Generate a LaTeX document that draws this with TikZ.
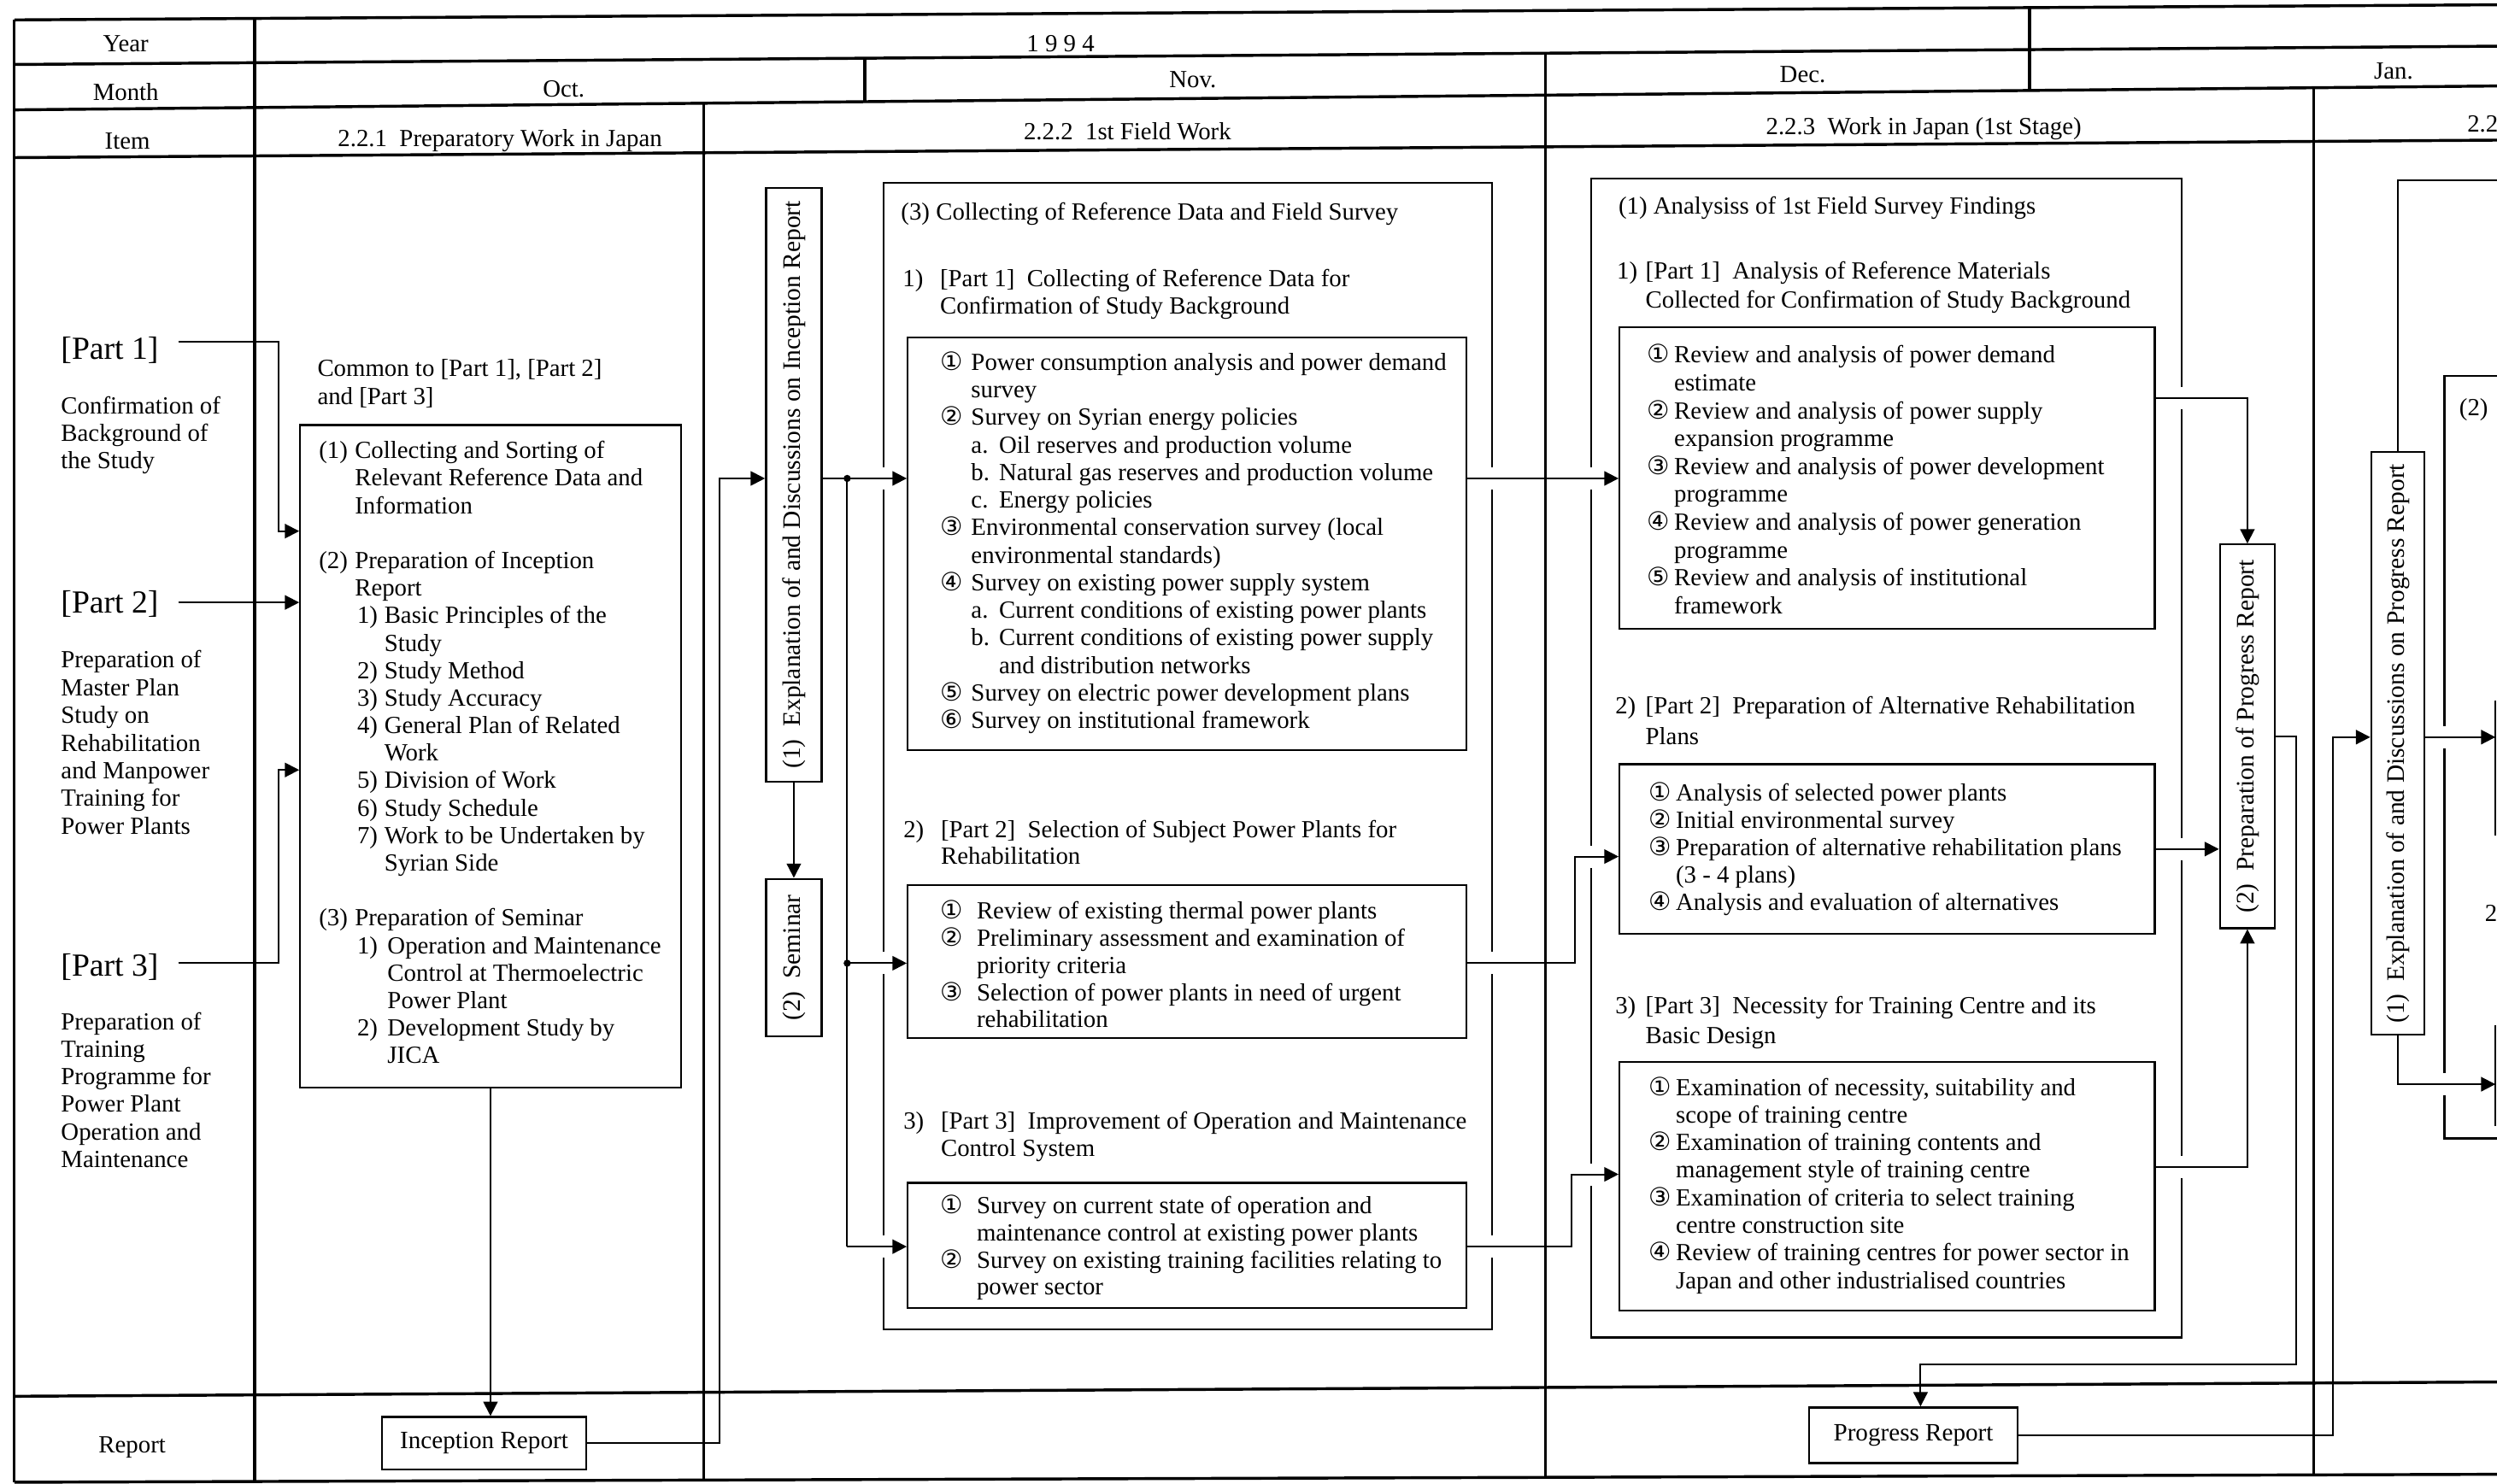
\documentclass[tikz,border=0pt]{standalone}
\usepackage{fontspec}
\setmainfont{Liberation Serif}
\newfontfamily\circfont{DejaVu Sans}
\usetikzlibrary{arrows.meta,fit}

% circled item numbers
\newcommand{\cn}[1]{{\circfont\fontsize{9pt}{9pt}\selectfont #1}}
% block of left-aligned lines with a given line distance
\newcommand{\blk}[2]{{\fontsize{8.8pt}{#1}\selectfont\begin{tabular}[t]{@{}l@{}}#2\end{tabular}}}
% hanging label: label set in a box of width #1, then text
\newcommand{\hl}[3]{\makebox[#1][l]{#2}#3}
% continuation line indented by #1
\newcommand{\ct}[2]{\hspace*{#1}#2}

\begin{document}
\begin{tikzpicture}[x=0.2mm,y=-0.2mm,
  tbl/.style={line width=1.05pt},
  edge/.style={line width=0.7pt},
  box/.style={draw,line width=0.7pt,inner sep=0pt},
  txt/.style={anchor=base west,inner sep=0pt,font=\fontsize{8.8pt}{9.83pt}\selectfont},
  hdr/.style={anchor=base,inner sep=0pt,font=\fontsize{8.8pt}{9.83pt}\selectfont},
  lbl/.style={inner sep=0pt,font=\fontsize{8.9pt}{9.83pt}\selectfont},
  part/.style={anchor=base west,inner sep=0pt,font=\fontsize{11.5pt}{12pt}\selectfont},
  vtext/.style={rotate=90,inner sep=0pt,font=\fontsize{9pt}{10pt}\selectfont},
  link/.style={line width=0.6pt},
  arr/.style={link,-{Triangle[length=1.8mm,width=1.8mm]}},
  gapmark/.style={fill=white}
]
\useasboundingbox (0,0) rectangle (1568,932);
\fill[white] (0,0) rectangle (1568,932);

% ---------------- table rules ----------------
\draw[tbl] (9,12.5) -- (1568,3);
\draw[tbl] (9,40.5) -- (1568,29);
\draw[tbl] (9,69) -- (1568,54);
\draw[tbl] (9,99) -- (1568,88);
\draw[tbl] (9,877) -- (1568,868);
\draw[tbl] (9,931) -- (1568,926);
\draw[tbl] (9,12.5) -- (9,931);
\draw[tbl] (160,11.6) -- (160,930.5);
\draw[tbl] (442,64.8) -- (442,929.6);
\draw[tbl] (543,36.6) -- (543,63.9);
\draw[tbl] (970.6,33.4) -- (970.6,927.9);
\draw[tbl] (1274.5,4.8) -- (1274.5,56.8);
\draw[tbl] (1453,55.1) -- (1453,926.4);

% ---------------- header texts ----------------
\node[hdr] (hyear) at (79,32.6) {Year};
\node[hdr] (hmonth) at (79,63) {Month};
\node[hdr] (hitem) at (80,93.4) {Item};
\node[hdr] (hreport) at (83,912.5) {Report};
\node[hdr] (y94) at (666,32.6) {1 9 9 4};
\node[hdr] (moct) at (354,61) {Oct.};
\node[hdr] (mnov) at (749,55) {Nov.};
\node[hdr] (mdec) at (1132,52) {Dec.};
\node[hdr] (mjan) at (1503,49.6) {Jan.};
\node[hdr] (i221) at (314,92) {2.2.1\ \ Preparatory Work in Japan};
\node[hdr] (i222) at (708,88) {2.2.2\ \ 1st Field Work};
\node[hdr] (i223) at (1208,84.5) {2.2.3\ \ Work in Japan (1st Stage)};
\node[txt] (i224) at (1549,82.7) {2.2};

% ---------------- left column ----------------
\node[part] (p1lab) at (38,225.6) {[Part 1]};
\node[txt] (p1txt) at (38,260) {\blk{9.83pt}{Confirmation of\\Background of\\the Study}};
\node[part] (p2lab) at (38,385) {[Part 2]};
\node[txt] (p2txt) at (38,419.5) {\blk{9.9pt}{Preparation of\\Master Plan\\Study on\\Rehabilitation\\and Manpower\\Training for\\Power Plants}};
\node[part] (p3lab) at (38,613) {[Part 3]};
\node[txt] (p3txt) at (38,647) {\blk{9.8pt}{Preparation of\\Training\\Programme for\\Power Plant\\Operation and\\Maintenance}};

% ---------------- 2.2.1 ----------------
\node[txt] (common) at (199,236.5) {\blk{9.92pt}{Common to [Part 1], [Part 2]\\and [Part 3]}};
\node[box, fit={(188.5,267) (427.5,683)}] (box221) {};
\node[txt] (t221) at (200,288) {\blk{9.83pt}{%
\hl{4.5mm}{(1)}{Collecting and Sorting of}\\
\ct{4.5mm}{Relevant Reference Data and}\\
\ct{4.5mm}{Information}\\
\\
\hl{4.5mm}{(2)}{Preparation of Inception}\\
\ct{4.5mm}{Report}\\
\ct{4.8mm}{\hl{3.4mm}{1)}{Basic Principles of the}}\\
\ct{8.2mm}{Study}\\
\ct{4.8mm}{\hl{3.4mm}{2)}{Study Method}}\\
\ct{4.8mm}{\hl{3.4mm}{3)}{Study Accuracy}}\\
\ct{4.8mm}{\hl{3.4mm}{4)}{General Plan of Related}}\\
\ct{8.2mm}{Work}\\
\ct{4.8mm}{\hl{3.4mm}{5)}{Division of Work}}\\
\ct{4.8mm}{\hl{3.4mm}{6)}{Study Schedule}}\\
\ct{4.8mm}{\hl{3.4mm}{7)}{Work to be Undertaken by}}\\
\ct{8.2mm}{Syrian Side}\\
\\
\hl{4.5mm}{(3)}{Preparation of Seminar}\\
\ct{4.8mm}{\hl{3.8mm}{1)}{Operation and Maintenance}}\\
\ct{8.6mm}{Control at Thermoelectric}\\
\ct{8.6mm}{Power Plant}\\
\ct{4.8mm}{\hl{3.8mm}{2)}{Development Study by}}\\
\ct{8.6mm}{JICA}}};
\node[box, fit={(240,890) (368,923)}] (irep) {};
\node[lbl] (irept) at (irep.center) {Inception Report};

% ---------------- 2.2.2 ----------------
\node[box, fit={(481,118) (516,491)}] (exp1) {};
\node[vtext] (exp1t) at (exp1.center) {(1)\ \ Explanation of and Discussions on Inception Report};
\node[box, fit={(481,552) (516,651)}] (sem) {};
\node[vtext] (semt) at (sem.center) {(2)\ \ Seminar};

\node[box, fit={(555,115) (937,835)}] (out222) {};
\node[txt] (h3) at (565.5,138) {(3) Collecting of Reference Data and Field Survey};
\node[txt] (h31) at (566.5,180) {\blk{9.7pt}{\hl{4.7mm}{1)}{[Part 1]\ \ Collecting of Reference Data for}\\ \ct{4.7mm}{Confirmation of Study Background}}};
\node[box, fit={(570,212) (921,471)}] (b1) {};
\node[txt] (b1t) at (590,232.5) {\blk{9.85pt}{%
\hl{3.9mm}{\cn{①}}{Power consumption analysis and power demand}\\
\ct{3.9mm}{survey}\\
\hl{3.9mm}{\cn{②}}{Survey on Syrian energy policies}\\
\ct{3.9mm}{\hl{3.5mm}{a.}{Oil reserves and production volume}}\\
\ct{3.9mm}{\hl{3.5mm}{b.}{Natural gas reserves and production volume}}\\
\ct{3.9mm}{\hl{3.5mm}{c.}{Energy policies}}\\
\hl{3.9mm}{\cn{③}}{Environmental conservation survey (local}\\
\ct{3.9mm}{environmental standards)}\\
\hl{3.9mm}{\cn{④}}{Survey on existing power supply system}\\
\ct{3.9mm}{\hl{3.5mm}{a.}{Current conditions of existing power plants}}\\
\ct{3.9mm}{\hl{3.5mm}{b.}{Current conditions of existing power supply}}\\
\ct{7.4mm}{and distribution networks}\\
\hl{3.9mm}{\cn{⑤}}{Survey on electric power development plans}\\
\hl{3.9mm}{\cn{⑥}}{Survey on institutional framework}}};

\node[txt] (h32) at (567,526) {\blk{9.7pt}{\hl{4.7mm}{2)}{[Part 2]\ \ Selection of Subject Power Plants for}\\ \ct{4.7mm}{Rehabilitation}}};
\node[box, fit={(570,556) (921,652)}] (b2) {};
\node[txt] (b2t) at (590,577) {\blk{9.75pt}{%
\hl{4.6mm}{\cn{①}}{Review of existing thermal power plants}\\
\hl{4.6mm}{\cn{②}}{Preliminary assessment and examination of}\\
\ct{4.6mm}{priority criteria}\\
\hl{4.6mm}{\cn{③}}{Selection of power plants in need of urgent}\\
\ct{4.6mm}{rehabilitation}}};

\node[txt] (h33) at (567,709) {\blk{9.9pt}{\hl{4.7mm}{3)}{[Part 3]\ \ Improvement of Operation and Maintenance}\\ \ct{4.7mm}{Control System}}};
\node[box, fit={(570,743) (921,821.5)}] (b3) {};
\node[txt] (b3t) at (590,762.5) {\blk{9.65pt}{%
\hl{4.6mm}{\cn{①}}{Survey on current state of operation and}\\
\ct{4.6mm}{maintenance control at existing power plants}\\
\hl{4.6mm}{\cn{②}}{Survey on existing training facilities relating to}\\
\ct{4.6mm}{power sector}}};

% ---------------- 2.2.3 ----------------
\node[box, fit={(999,112) (1370,840)}] (out223) {};
\node[txt] (m1) at (1016,134.5) {(1) Analysiss of 1st Field Survey Findings};
\node[txt] (m2) at (1015,175) {\blk{10.4pt}{\hl{3.6mm}{1)}{[Part 1]\ \ Analysis of Reference Materials}\\ \ct{3.6mm}{Collected for Confirmation of Study Background}}};
\node[box, fit={(1017,205.6) (1353,395)}] (c1) {};
\node[txt] (c1t) at (1034,228) {\blk{9.96pt}{%
\hl{3.4mm}{\cn{①}}{Review and analysis of power demand}\\
\ct{3.4mm}{estimate}\\
\hl{3.4mm}{\cn{②}}{Review and analysis of power supply}\\
\ct{3.4mm}{expansion programme}\\
\hl{3.4mm}{\cn{③}}{Review and analysis of power development}\\
\ct{3.4mm}{programme}\\
\hl{3.4mm}{\cn{④}}{Review and analysis of power generation}\\
\ct{3.4mm}{programme}\\
\hl{3.4mm}{\cn{⑤}}{Review and analysis of institutional}\\
\ct{3.4mm}{framework}}};

\node[txt] (m3) at (1014,448.4) {\blk{11pt}{\hl{3.8mm}{2)}{[Part 2]\ \ Preparation of Alternative Rehabilitation}\\ \ct{3.8mm}{Plans}}};
\node[box, fit={(1017,480) (1353,586.6)}] (c2) {};
\node[txt] (c2t) at (1035,503) {\blk{9.75pt}{%
\hl{3.4mm}{\cn{①}}{Analysis of selected power plants}\\
\hl{3.4mm}{\cn{②}}{Initial environmental survey}\\
\hl{3.4mm}{\cn{③}}{Preparation of alternative rehabilitation plans}\\
\ct{3.4mm}{(3 - 4 plans)}\\
\hl{3.4mm}{\cn{④}}{Analysis and evaluation of alternatives}}};

\node[txt] (m4) at (1014,636.5) {\blk{10.8pt}{\hl{3.8mm}{3)}{[Part 3]\ \ Necessity for Training Centre and its}\\ \ct{3.8mm}{Basic Design}}};
\node[box, fit={(1017,667) (1353,823)}] (c3) {};
\node[txt] (c3t) at (1035,688) {\blk{9.86pt}{%
\hl{3.4mm}{\cn{①}}{Examination of necessity, suitability and}\\
\ct{3.4mm}{scope of training centre}\\
\hl{3.4mm}{\cn{②}}{Examination of training contents and}\\
\ct{3.4mm}{management style of training centre}\\
\hl{3.4mm}{\cn{③}}{Examination of criteria to select training}\\
\ct{3.4mm}{centre construction site}\\
\hl{3.4mm}{\cn{④}}{Review of training centres for power sector in}\\
\ct{3.4mm}{Japan and other industrialised countries}}};

\node[box, fit={(1394,342) (1428.5,583)}] (prep) {};
\node[vtext] (prept) at (prep.center) {(2)\ \ Preparation of Progress Report};
\node[box, fit={(1136,884) (1267,919)}] (prog) {};
\node[lbl] (progt) at (prog.center) {Progress Report};

% ---------------- 2.2.4 (continues beyond the page) ----------------
\node[box, fit={(1489,284) (1522.5,650)}] (exp2) {};
\node[vtext] (exp2t) at (exp2.center) {(1)\ \ Explanation of and Discussions on Progress Report};
\draw[edge] (1568,236) -- (1535,236) -- (1535,715) -- (1568,715);
\node[txt] (sec2) at (1544,261) {(2)};
\node[txt] (cut2) at (1560,579) {2};
\draw[edge] (1567,440) -- (1567,525);
\draw[edge] (1567,644) -- (1567,707);

% ---------------- breaks in box edges where connectors pass ----------------
\foreach \gx/\gy in {555/300.5,555/605,555/783,937/300.5,937/605,937/783,
                     999/300.5,999/538,999/737.6,1370/250,1370/533.3,1370/733,
                     1535/463,1535/681}
  \fill[gapmark] (\gx-3,\gy-7) rectangle (\gx+3,\gy+7);

% ---------------- connectors ----------------
\coordinate (p1s) at (112,214.5);
\coordinate (k1) at (175,333.6);
\coordinate (p2s) at (112,378.4);
\coordinate (p3s) at (112,604.6);
\coordinate (k3) at (175,483.6);
\draw[arr] (p1s) -| (k1) -- (k1 -| box221.west);
\draw[arr] (p2s) -- (p2s -| box221.west);
\draw[arr] (p3s) -| (k3) -- (k3 -| box221.west);
\draw[arr] (box221.south) -- (box221.south |- irep.north);

\coordinate (k5) at (452,300.5);
\coordinate (j1) at (532,300.5);
\coordinate (j2) at (532,605);
\coordinate (k8) at (532,783);
\draw[arr] (irep.east) -| (k5) -- (k5 -| exp1.west);
\draw[arr] (exp1.south) -- (sem.north);
\draw[arr] (exp1.east |- j1) -- (j1 -| b1.west);
\draw[link] (j1) -- (k8);
\draw[arr] (k8) -- (k8 -| b3.west);
\draw[arr] (j2) -- (j2 -| b2.west);
\fill (j1) circle[radius=0.45mm];
\fill (j2) circle[radius=0.45mm];

\coordinate (r2) at (989,538);
\coordinate (r3) at (987,737.6);
\draw[arr] (b1.east |- j1) -- (c1.west |- j1);
\draw[arr] (b2.east |- j2) -| (r2) -- (r2 -| c2.west);
\draw[arr] (b3.east |- k8) -| (r3) -- (r3 -| c3.west);

\coordinate (k12) at (1411.25,250);
\coordinate (k14) at (1411.25,733);
\coordinate (k15a) at (1442,857);
\coordinate (k15b) at (1206,857);
\coordinate (k16) at (1465,463);
\draw[arr] (k12 -| c1.east) -- (k12) -- (prep.north);
\draw[arr] (c2.east) -- (c2.east -| prep.west);
\draw[arr] (k14 -| c3.east) -- (k14) -- (prep.south);
\draw[arr] (prep.east) -| (k15a) -- (k15b) -- (k15b |- prog.north);
\draw[arr] (prog.east) -| (k16) -- (k16 -| exp2.west);

\coordinate (k17) at (1568,113);
\coordinate (k18) at (1567,463);
\coordinate (k19) at (1567,681);
\draw[link] (exp2.north) |- (k17);
\draw[arr] (exp2.east |- k18) -- (k18);
\draw[arr] (exp2.south) |- (k19);
\end{tikzpicture}
\end{document}
